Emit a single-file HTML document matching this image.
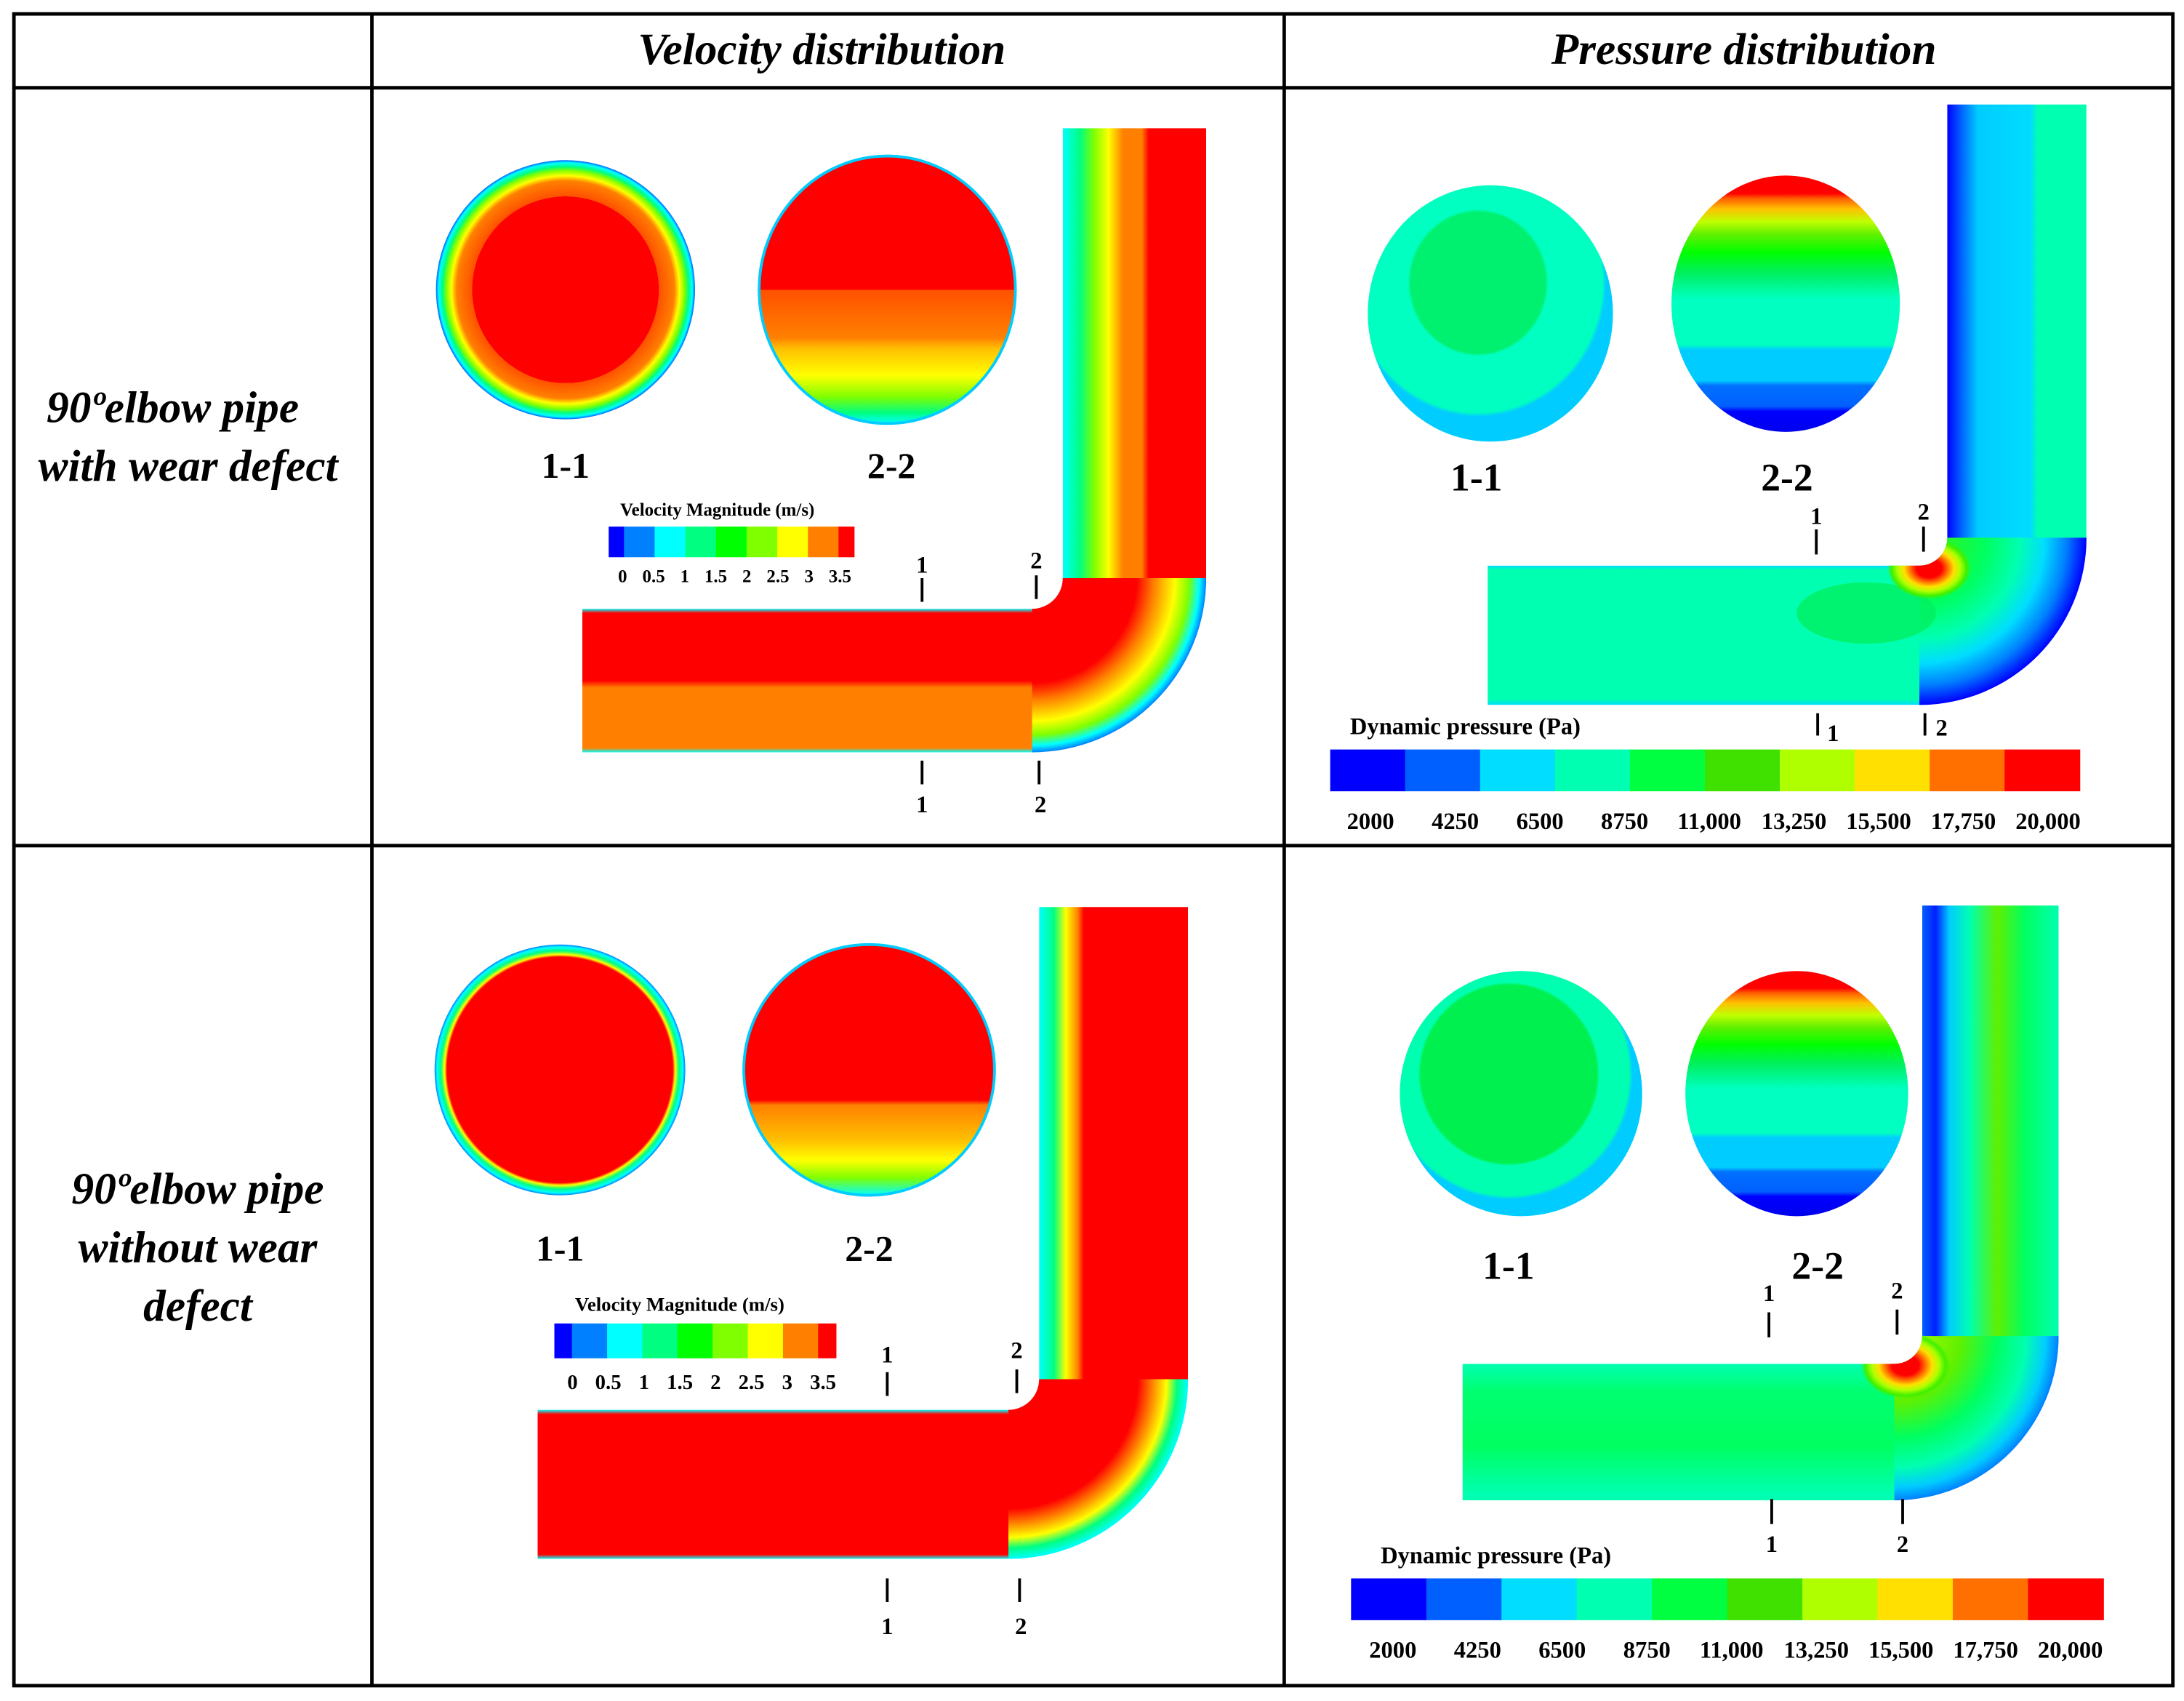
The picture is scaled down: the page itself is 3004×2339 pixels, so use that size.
<!DOCTYPE html>
<html><head><meta charset="utf-8"><style>
html,body{margin:0;padding:0;background:#fff}
svg{display:block}
text{font-family:"Liberation Serif",serif;fill:#000}
.h{font-style:italic;font-weight:bold;font-size:32px}
.r{font-style:italic;font-weight:bold;font-size:32px}
.s{font-weight:bold;font-size:26px}
.sp{font-weight:bold;font-size:28px}
.m{font-weight:bold;font-size:17px}
.pl{font-weight:bold;font-size:17px}
</style></head><body>
<svg id="fig" width="3004" height="2339" viewBox="0 0 1568 1221" preserveAspectRatio="none" xmlns="http://www.w3.org/2000/svg">
<defs>
 <radialGradient id="v11a" cx="0.5" cy="0.5" r="0.5">
  <stop offset="0" stop-color="#ff0000"/><stop offset="0.72" stop-color="#ff0000"/><stop offset="0.72" stop-color="#ff5000"/><stop offset="0.84" stop-color="#ff8000"/><stop offset="0.88" stop-color="#ffff00"/><stop offset="0.92" stop-color="#80ff00"/><stop offset="0.95" stop-color="#00ff80"/><stop offset="0.98" stop-color="#00ffff"/><stop offset="1" stop-color="#0060ff"/>
 </radialGradient>
 <radialGradient id="v11b" cx="0.5" cy="0.5" r="0.5">
  <stop offset="0" stop-color="#ff0000"/><stop offset="0.9" stop-color="#ff0000"/><stop offset="0.92" stop-color="#ffff00"/><stop offset="0.95" stop-color="#00ff80"/><stop offset="0.98" stop-color="#00ffff"/><stop offset="1" stop-color="#0080ff"/>
 </radialGradient>
 <linearGradient id="v22" x1="0" y1="0" x2="0" y2="1">
  <stop offset="0" stop-color="#ff0000"/><stop offset="0.5" stop-color="#ff0000"/><stop offset="0.5" stop-color="#ff5000"/><stop offset="0.68" stop-color="#ff8000"/><stop offset="0.72" stop-color="#ffc000"/><stop offset="0.82" stop-color="#ffff00"/><stop offset="0.9" stop-color="#80ff00"/><stop offset="0.96" stop-color="#00ff80"/><stop offset="1" stop-color="#00ffff"/>
 </linearGradient>
 <linearGradient id="v22b" x1="0" y1="0" x2="0" y2="1">
  <stop offset="0" stop-color="#ff0000"/><stop offset="0.62" stop-color="#ff0000"/><stop offset="0.64" stop-color="#ff8000"/><stop offset="0.78" stop-color="#ffc000"/><stop offset="0.86" stop-color="#ffff00"/><stop offset="0.93" stop-color="#80ff00"/><stop offset="1" stop-color="#00ffff"/>
 </linearGradient>
 <radialGradient id="p11" cx="0.45" cy="0.38" r="0.55">
  <stop offset="0" stop-color="#00f070"/><stop offset="0.5" stop-color="#00f070"/><stop offset="0.52" stop-color="#00ffc0"/><stop offset="0.92" stop-color="#00ffc0"/><stop offset="0.95" stop-color="#00ccff"/><stop offset="1" stop-color="#00ccff"/>
 </radialGradient>
 <radialGradient id="p11b" cx="0.45" cy="0.42" r="0.55">
  <stop offset="0" stop-color="#00f050"/><stop offset="0.66" stop-color="#00f050"/><stop offset="0.68" stop-color="#00ffb0"/><stop offset="0.9" stop-color="#00ffb0"/><stop offset="0.93" stop-color="#00ccff"/><stop offset="1" stop-color="#00ccff"/>
 </radialGradient>
 <linearGradient id="p22" x1="0" y1="0" x2="0" y2="1">
  <stop offset="0" stop-color="#ff0000"/><stop offset="0.07" stop-color="#ff0000"/><stop offset="0.09" stop-color="#ff6000"/><stop offset="0.13" stop-color="#ffc000"/><stop offset="0.18" stop-color="#c0ff00"/><stop offset="0.23" stop-color="#60f000"/><stop offset="0.3" stop-color="#00ff00"/><stop offset="0.38" stop-color="#00f060"/><stop offset="0.48" stop-color="#00ffc0"/><stop offset="0.66" stop-color="#00ffc0"/><stop offset="0.68" stop-color="#00ccff"/><stop offset="0.8" stop-color="#00ccff"/><stop offset="0.82" stop-color="#0070ff"/><stop offset="0.9" stop-color="#0060ff"/><stop offset="0.92" stop-color="#0000ff"/><stop offset="1" stop-color="#0000ee"/>
 </linearGradient>
 <clipPath id="cp1"><path d="M418,437 L741,437 A22,22 0 0 0 763,415 L763,92 L866,92 L866,415 A125,125 0 0 1 741,540 L418,540 Z"/></clipPath>
 <clipPath id="cp2"><path d="M386,1012 L724,1012 A22,22 0 0 0 746,990 L746,651 L853,651 L853,990 A129,129 0 0 1 724,1119 L386,1119 Z"/></clipPath>
 <clipPath id="cp3"><path d="M1068,406 L1378,406 A20,20 0 0 0 1398,386 L1398,75 L1498,75 L1498,386 A120,120 0 0 1 1378,506 L1068,506 Z"/></clipPath>
 <clipPath id="cp4"><path d="M1050,979 L1360,979 A20,20 0 0 0 1380,959 L1380,650 L1478,650 L1478,959 A118,118 0 0 1 1360,1077 L1050,1077 Z"/></clipPath>
 <linearGradient id="vh1" x1="0" y1="0" x2="0" y2="1"><stop offset="0" stop-color="#00ffff"/><stop offset="0.03" stop-color="#ff0000"/><stop offset="0.5" stop-color="#ff0000"/><stop offset="0.55" stop-color="#ff8000"/><stop offset="0.97" stop-color="#ff8000"/><stop offset="1" stop-color="#00ffff"/></linearGradient>
 <linearGradient id="vv1" x1="0" y1="0" x2="1" y2="0"><stop offset="0" stop-color="#00ffff"/><stop offset="0.12" stop-color="#00ff80"/><stop offset="0.22" stop-color="#80ff00"/><stop offset="0.32" stop-color="#ffff00"/><stop offset="0.42" stop-color="#ff8000"/><stop offset="0.55" stop-color="#ff8000"/><stop offset="0.6" stop-color="#ff0000"/><stop offset="1" stop-color="#ff0000"/></linearGradient>
 <radialGradient id="vb1" gradientUnits="userSpaceOnUse" cx="741" cy="415" r="125"><stop offset="0" stop-color="#ff0000"/><stop offset="0.6" stop-color="#ff0000"/><stop offset="0.7" stop-color="#ff8000"/><stop offset="0.82" stop-color="#ffff00"/><stop offset="0.9" stop-color="#80ff00"/><stop offset="0.96" stop-color="#00ffff"/><stop offset="1" stop-color="#0080ff"/></radialGradient>
 <linearGradient id="vh2" x1="0" y1="0" x2="0" y2="1"><stop offset="0" stop-color="#00ffff"/><stop offset="0.03" stop-color="#ff0000"/><stop offset="0.97" stop-color="#ff0000"/><stop offset="1" stop-color="#00ffff"/></linearGradient>
 <linearGradient id="vv2" x1="0" y1="0" x2="1" y2="0"><stop offset="0" stop-color="#00ffff"/><stop offset="0.1" stop-color="#00ff80"/><stop offset="0.18" stop-color="#ffff00"/><stop offset="0.26" stop-color="#ff8000"/><stop offset="0.3" stop-color="#ff0000"/><stop offset="1" stop-color="#ff0000"/></linearGradient>
 <radialGradient id="vb2" gradientUnits="userSpaceOnUse" cx="724" cy="990" r="129"><stop offset="0" stop-color="#ff0000"/><stop offset="0.72" stop-color="#ff0000"/><stop offset="0.8" stop-color="#ff8000"/><stop offset="0.88" stop-color="#ffff00"/><stop offset="0.94" stop-color="#00ff80"/><stop offset="1" stop-color="#00ffff"/></radialGradient>
 <linearGradient id="ph1" x1="0" y1="0" x2="0" y2="1"><stop offset="0" stop-color="#00ddff"/><stop offset="0.03" stop-color="#00ffb0"/><stop offset="0.96" stop-color="#00ffb0"/><stop offset="1" stop-color="#00ddff"/></linearGradient>
 <linearGradient id="pv1" x1="0" y1="0" x2="1" y2="0"><stop offset="0" stop-color="#0000ff"/><stop offset="0.1" stop-color="#0060ff"/><stop offset="0.22" stop-color="#00ccff"/><stop offset="0.6" stop-color="#00ddff"/><stop offset="0.65" stop-color="#00ffb0"/><stop offset="1" stop-color="#00ffb0"/></linearGradient>
 <radialGradient id="pb1" gradientUnits="userSpaceOnUse" cx="1378" cy="386" r="120"><stop offset="0" stop-color="#40f000"/><stop offset="0.4" stop-color="#00ff60"/><stop offset="0.6" stop-color="#00ffb0"/><stop offset="0.75" stop-color="#00ddff"/><stop offset="0.88" stop-color="#0080ff"/><stop offset="1" stop-color="#0000ff"/></radialGradient>
 <linearGradient id="ph2" x1="0" y1="0" x2="0" y2="1"><stop offset="0" stop-color="#00ffb0"/><stop offset="0.2" stop-color="#00ff70"/><stop offset="0.6" stop-color="#00ff60"/><stop offset="0.95" stop-color="#00ffb0"/><stop offset="1" stop-color="#00ffb0"/></linearGradient>
 <linearGradient id="pv2" x1="0" y1="0" x2="1" y2="0"><stop offset="0" stop-color="#0060ff"/><stop offset="0.1" stop-color="#0020ff"/><stop offset="0.2" stop-color="#00ccff"/><stop offset="0.35" stop-color="#00ffb0"/><stop offset="0.55" stop-color="#60f000"/><stop offset="0.75" stop-color="#00ff60"/><stop offset="1" stop-color="#00ffb0"/></linearGradient>
 <radialGradient id="pb2" gradientUnits="userSpaceOnUse" cx="1360" cy="959" r="118"><stop offset="0" stop-color="#c0ff00"/><stop offset="0.4" stop-color="#60f000"/><stop offset="0.62" stop-color="#00ff60"/><stop offset="0.8" stop-color="#00ffb0"/><stop offset="0.92" stop-color="#00ccff"/><stop offset="1" stop-color="#0080ff"/></radialGradient>
 <radialGradient id="hot" cx="0.5" cy="0.5" r="0.5"><stop offset="0" stop-color="#ff0000"/><stop offset="0.3" stop-color="#ff0000"/><stop offset="0.45" stop-color="#ff7000"/><stop offset="0.6" stop-color="#ffe000"/><stop offset="0.75" stop-color="#b0ff00"/><stop offset="0.9" stop-color="#40f000"/><stop offset="1" stop-color="#40f000" stop-opacity="0"/></radialGradient>
</defs>

<g stroke="#000" stroke-width="2.5" fill="none">
 <rect x="10" y="10" width="1550" height="1200"/>
 <line x1="10" y1="63" x2="1560" y2="63"/><line x1="10" y1="607" x2="1560" y2="607"/>
 <line x1="267" y1="10" x2="267" y2="1210"/><line x1="922" y1="10" x2="922" y2="1210"/>
</g>
<text class="h" x="590" y="46" text-anchor="middle">Velocity distribution</text>
<text class="h" x="1252" y="46" text-anchor="middle">Pressure distribution</text>
<text class="r" text-anchor="middle"><tspan x="124" y="303">90ºelbow pipe</tspan><tspan x="135" y="345">with wear defect</tspan></text>
<text class="r" text-anchor="middle"><tspan x="142" y="864">90ºelbow pipe</tspan><tspan x="142" y="906">without wear</tspan><tspan x="142" y="948">defect</tspan></text>

<g>
 <circle cx="406" cy="208" r="93" fill="url(#v11a)"/>
 <ellipse cx="637" cy="208" rx="92" ry="96" fill="url(#v22)" stroke="#00ccff" stroke-width="2"/>
 <text class="s" x="406" y="343" text-anchor="middle">1-1</text>
 <text class="s" x="640" y="343" text-anchor="middle">2-2</text>
 <g clip-path="url(#cp1)">
  <rect x="418" y="437" width="330" height="103" fill="url(#vh1)"/>
  <rect x="763" y="80" width="103" height="336" fill="url(#vv1)"/>
  <rect x="741" y="415" width="130" height="130" fill="url(#vb1)"/>
 </g>
 <text class="m" x="515" y="370" text-anchor="middle" style="font-size:13px">Velocity Magnitude (m/s)</text>
 <g id="vcb1"></g>
</g>
<g>
 <circle cx="402" cy="768" r="90" fill="url(#v11b)"/>
 <circle cx="624" cy="768" r="90" fill="url(#v22b)" stroke="#00ccff" stroke-width="2"/>
 <text class="s" x="402" y="905" text-anchor="middle">1-1</text>
 <text class="s" x="624" y="905" text-anchor="middle">2-2</text>
 <g clip-path="url(#cp2)">
  <rect x="386" y="1012" width="340" height="107" fill="url(#vh2)"/>
  <rect x="746" y="640" width="107" height="352" fill="url(#vv2)"/>
  <rect x="724" y="990" width="135" height="135" fill="url(#vb2)"/>
 </g>
 <text class="m" x="488" y="941" text-anchor="middle" style="font-size:14px">Velocity Magnitude (m/s)</text>
 <g id="vcb2"></g>
</g>
<g>
 <ellipse cx="1070" cy="225" rx="88" ry="92" fill="url(#p11)"/>
 <ellipse cx="1282" cy="218" rx="82" ry="92" fill="url(#p22)"/>
 <text class="sp" x="1060" y="352" text-anchor="middle">1-1</text>
 <text class="sp" x="1283" y="352" text-anchor="middle">2-2</text>
 <g clip-path="url(#cp3)">
  <rect x="1068" y="406" width="320" height="100" fill="url(#ph1)"/>
  <rect x="1398" y="70" width="100" height="318" fill="url(#pv1)"/>
  <rect x="1378" y="386" width="125" height="125" fill="url(#pb1)"/>
  <ellipse cx="1340" cy="440" rx="50" ry="22" fill="#00f060" opacity="0.8"/>
  <ellipse cx="1385" cy="408" rx="30" ry="22" fill="url(#hot)"/>
 </g>
 <text class="pl" x="1052" y="527" text-anchor="middle">Dynamic pressure (Pa)</text>
 <g id="pcb1"></g>
</g>
<g>
 <ellipse cx="1092" cy="785" rx="87" ry="88" fill="url(#p11b)"/>
 <ellipse cx="1290" cy="785" rx="80" ry="88" fill="url(#p22)"/>
 <text class="sp" x="1083" y="918" text-anchor="middle">1-1</text>
 <text class="sp" x="1305" y="918" text-anchor="middle">2-2</text>
 <g clip-path="url(#cp4)">
  <rect x="1050" y="979" width="320" height="98" fill="url(#ph2)"/>
  <rect x="1380" y="640" width="98" height="322" fill="url(#pv2)"/>
  <rect x="1360" y="959" width="125" height="125" fill="url(#pb2)"/>
  <ellipse cx="1368" cy="980" rx="32" ry="24" fill="url(#hot)"/>
 </g>
 <text class="pl" x="1074" y="1122" text-anchor="middle">Dynamic pressure (Pa)</text>
 <g id="pcb2"></g>
</g>
<g stroke="#000" stroke-width="2">
 <line x1="662" y1="415" x2="662" y2="432"/><line x1="744" y1="413" x2="744" y2="430"/>
 <line x1="662" y1="546" x2="662" y2="563"/><line x1="746" y1="546" x2="746" y2="563"/>
 <line x1="637" y1="985" x2="637" y2="1002"/><line x1="730" y1="983" x2="730" y2="1000"/>
 <line x1="637" y1="1133" x2="637" y2="1150"/><line x1="732" y1="1133" x2="732" y2="1150"/>
 <line x1="1304" y1="380" x2="1304" y2="398"/><line x1="1381" y1="378" x2="1381" y2="396"/>
 <line x1="1305" y1="512" x2="1305" y2="528"/><line x1="1382" y1="512" x2="1382" y2="528"/>
 <line x1="1270" y1="942" x2="1270" y2="960"/><line x1="1362" y1="940" x2="1362" y2="958"/>
 <line x1="1272" y1="1076" x2="1272" y2="1094"/><line x1="1366" y1="1076" x2="1366" y2="1094"/>
</g>
<g style="font-weight:bold;font-size:17px">
 <text x="662" y="411" text-anchor="middle" style="font-weight:bold">1</text><text x="744" y="408" text-anchor="middle" style="font-weight:bold">2</text>
 <text x="662" y="583" text-anchor="middle" style="font-weight:bold">1</text><text x="747" y="583" text-anchor="middle" style="font-weight:bold">2</text>
 <text x="637" y="978" text-anchor="middle" style="font-weight:bold">1</text><text x="730" y="975" text-anchor="middle" style="font-weight:bold">2</text>
 <text x="637" y="1173" text-anchor="middle" style="font-weight:bold">1</text><text x="733" y="1173" text-anchor="middle" style="font-weight:bold">2</text>
 <text x="1304" y="376" text-anchor="middle" style="font-weight:bold">1</text><text x="1381" y="373" text-anchor="middle" style="font-weight:bold">2</text>
 <text x="1316" y="532" text-anchor="middle" style="font-weight:bold">1</text><text x="1394" y="528" text-anchor="middle" style="font-weight:bold">2</text>
 <text x="1270" y="934" text-anchor="middle" style="font-weight:bold">1</text><text x="1362" y="932" text-anchor="middle" style="font-weight:bold">2</text>
 <text x="1272" y="1114" text-anchor="middle" style="font-weight:bold">1</text><text x="1366" y="1114" text-anchor="middle" style="font-weight:bold">2</text>
</g>
</svg>
<script>
const velColors = ["#0000ff","#0080ff","#00ffff","#00ff80","#00ff00","#80ff00","#ffff00","#ff8000","#ff0000"];
const velLabels = ["0","0.5","1","1.5","2","2.5","3","3.5"];
const preColors = ["#0000ff","#0060ff","#00ddff","#00ffb0","#00ff40","#40e000","#b0ff00","#ffe000","#ff7000","#ff0000"];
const preLabels = ["2000","4250","6500","8750","11,000","13,250","15,500","17,750","20,000"];
const NS="http://www.w3.org/2000/svg";
function velBar(id,x0,y0,w,h,ly,fs,lx0,lstep){
  const g=document.getElementById(id);
  const n=velColors.length, u=w/(n-1);
  let x=x0;
  velColors.forEach((c,i)=>{
    const sw=(i===0||i===n-1)?u/2:u;
    const r=document.createElementNS(NS,'rect');
    
    
    r.setAttribute('x',x);r.setAttribute('y',y0);r.setAttribute('width',sw+0.5);r.setAttribute('height',h);r.setAttribute('fill',c);
    g.appendChild(r);x+=sw;
  });
  velLabels.forEach((l,i)=>{
    const t=document.createElementNS(NS,'text');
    
    
    t.setAttribute('x',lx0+i*lstep);t.setAttribute('y',ly);t.setAttribute('text-anchor','middle');
    t.setAttribute('style','font-weight:bold;font-size:'+fs+'px');
    t.textContent=l;g.appendChild(t);
  });
}
function preBar(id,x0,y0,w,h,ly,lx0,lstep){
  const g=document.getElementById(id);
  const n=preColors.length,u=w/n;
  preColors.forEach((c,i)=>{
    const r=document.createElementNS(NS,'rect');
    
    
    r.setAttribute('x',x0+i*u);r.setAttribute('y',y0);r.setAttribute('width',u+0.5);r.setAttribute('height',h);r.setAttribute('fill',c);
    g.appendChild(r);
  });
  preLabels.forEach((l,i)=>{
    const t=document.createElementNS(NS,'text');
    
    
    t.setAttribute('x',lx0+i*lstep);t.setAttribute('y',ly);t.setAttribute('text-anchor','middle');
    t.setAttribute('style','font-weight:bold;font-size:17px');
    t.textContent=l;g.appendChild(t);
  });
}
velBar('vcb1',437,378,176,22,418,13,447,22.3);
velBar('vcb2',398,950,202,25,997,15,411,25.7);
preBar('pcb1',955,538,538,30,595,984,60.8);
preBar('pcb2',970,1133,540,30,1190,1000,60.8);
</script>
</body></html>
